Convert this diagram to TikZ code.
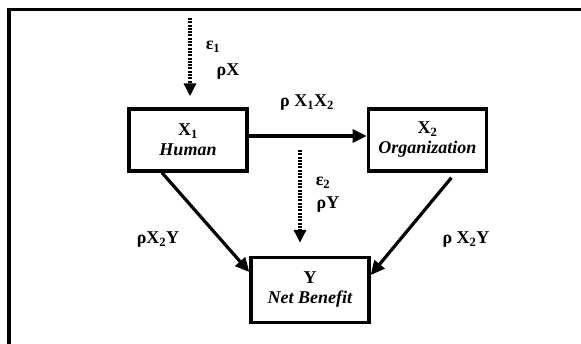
\documentclass[tikz,border=0pt]{standalone}
\usepackage{fontspec}
\setmainfont{Liberation Serif}
\usepackage{tikz}
\usetikzlibrary{arrows.meta, calc, positioning}

\begin{document}
\begin{tikzpicture}[
    x=1pt, y=-1pt,
    font=\fontsize{18}{20}\selectfont\bfseries,
    box/.style={rectangle, draw, line width=3.4pt, minimum width=118pt, minimum height=62pt, align=center, inner sep=2pt},
    arrow/.style={-{Triangle[length=14pt, width=13pt]}, line width=3.2pt},
    dotarrow/.style={-{Triangle[length=13pt, width=12pt]}, line width=3.4pt, dash pattern=on 2pt off 1.3pt},
    lbl/.style={inner sep=0pt}
]
    \useasboundingbox (0,0) rectangle (581,344);
    % frame
    \draw[line width=3.7pt, line join=miter] (9,344) -- (9,9.5) -- (581,9.5);

    % variables
    \node[box] (human) at (188,140) {X\textsubscript{1}\\\textit{Human}};
    \node[box, right=118pt of human] (org) {X\textsubscript{2}\\\textit{Organization}};
    \node[box, minimum height=65pt] (benefit) at (310,290) {Y\\\textit{Net Benefit}};

    % error terms
    \coordinate (e1start) at (190,18);
    \coordinate (e2start) at (300,150);
    \node[lbl] (eps1) at (213,47) {ε\textsubscript{1}};
    \node[lbl] (rhox) at (228,72) {ρX};
    \node[lbl] (eps2) at (323,183) {ε\textsubscript{2}};
    \node[lbl] (rhoy) at (328,205) {ρY};

    % path labels
    \node[lbl] (rhoxx) at (307,103) {ρ X\textsubscript{1}X\textsubscript{2}};
    \node[lbl] (rholeft) at (158,240) {ρX\textsubscript{2}Y};
    \node[lbl] (rhoright) at (466,240) {ρ X\textsubscript{2}Y};

    % arrows
    \draw[dotarrow, shorten >=11pt] (e1start) -- (e1start |- human.north);
    \draw[dotarrow, shorten >=13pt] (e2start) -- (e2start |- benefit.north);
    \draw[arrow] ([yshift=4pt]human.east) -- ([yshift=4pt]org.west);
    \draw[arrow] ([xshift=-26pt]human.south) -- ([yshift=18pt]benefit.west);
    \draw[arrow] ([xshift=24pt, yshift=-5pt]org.south) -- ([yshift=15pt]benefit.east);
\end{tikzpicture}
\end{document}
